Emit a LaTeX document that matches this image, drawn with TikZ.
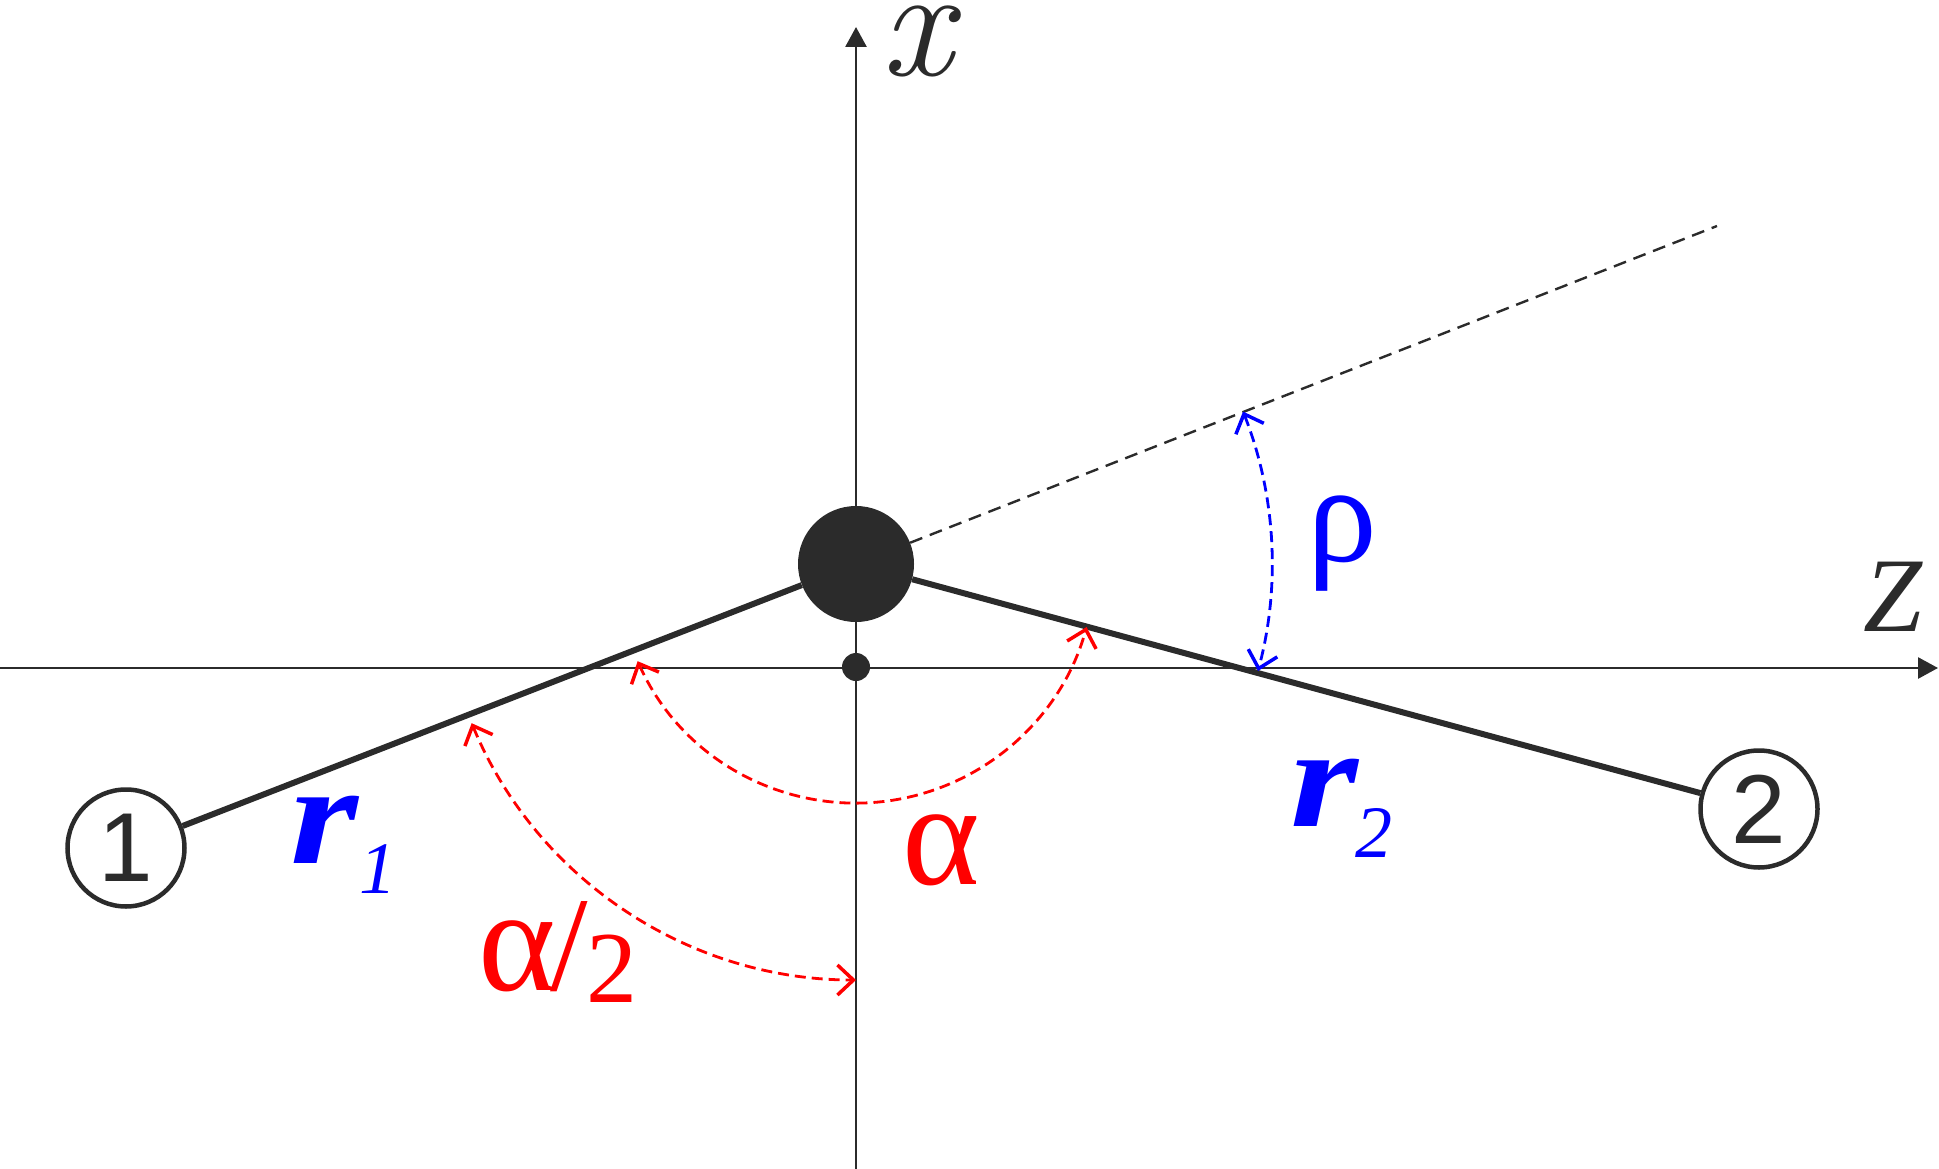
\documentclass[tikz,border=0pt]{standalone}
\usepackage{fontspec}
\usepackage{graphicx}
\setmainfont{Liberation Serif}
\newfontfamily\sansf{Liberation Sans}
\newfontfamily\lmfont{Latin Modern Roman}
\usetikzlibrary{arrows.meta,calc}
\definecolor{ink}{HTML}{2B2B2B}
\definecolor{myblue}{RGB}{0,0,255}
\definecolor{myred}{RGB}{255,0,0}
\newcommand\fsz[1]{\fontsize{#1}{#1}\selectfont}
\begin{document}
\begin{tikzpicture}[x=1pt,y=-1pt,
  axis/.style={draw=ink,line width=2.8pt,-{Triangle[length=20pt,width=21pt]}},
  bond/.style={draw=ink,line width=6pt},
  atom/.style={circle,draw=ink,line width=4.5pt,fill=white,minimum size=117pt,inner sep=0pt,font=\sansf\fsz{98},text=ink},
  dashline/.style={draw=ink,line width=2.4pt,dash pattern=on 13pt off 8pt},
  angarc/.style={line width=2.8pt,dash pattern=on 11pt off 6pt,
    arrows={Straight Barb[length=16pt,width=30pt,line width=3.5pt]-Straight Barb[length=16pt,width=30pt,line width=3.5pt]}},
  lab/.style={inner sep=0pt}
]
\useasboundingbox (0,0) rectangle (1939,1169);
% axes
\coordinate (zl) at (0,668);
\coordinate (zr) at (1938,668);
\coordinate (xb) at (856,1169);
\coordinate (xt) at (856,27);
\draw[axis] (zl) -- (zr);
\draw[axis] (xb) -- (xt);
% atoms
\node[circle,fill=ink,minimum size=116pt,inner sep=0pt] (O) at (856,564) {};
\node[circle,fill=ink,minimum size=28pt,inner sep=0pt] (o) at (856,667) {};
\node[atom] (n1) at (126,848) {1};
\node[atom] (n2) at (1759,809) {2};
% bonds
\draw[bond] (n1) -- (O);
\draw[bond] (n2) -- (O);
\coordinate (E) at (1717,226);
\draw[dashline] (O) -- (E);
% angle arcs
\draw[angarc,draw=myred] ($(O)+(156:239)$) arc[start angle=156,end angle=15.3,radius=239];
\draw[angarc,draw=myred] ($(O)+(157.5:416)$) arc[start angle=157.5,end angle=90,radius=416];
\draw[angarc,draw=myblue] ($(O)+(-21.5:416)$) arc[start angle=-21.5,end angle=14.9,radius=416];
% labels
\node[lab,text=ink] (lx) at (917,41) {\lmfont\fsz{158}\itshape x};
\node[lab,text=ink] (lz) at (1893,597) {\fsz{106}\itshape Z};
\node[lab,text=myblue] (lrho) at (1342,544) {\fsz{140}ρ};
\node[lab,text=myred] (lal) at (941,850) {\fsz{148}α};
\node[lab,text=myred,anchor=base west] (lal2) at (478,990) {\fsz{148}α\kern-5pt{\fsz{135}/}\kern-2pt\raisebox{-12pt}{\fsz{102}2}};
\node[lab,text=myblue,anchor=base west] (lr1) at (290,863) {\fsz{143}\bfseries\itshape\scalebox{1.22}[1]{r}\kern1pt\raisebox{-30pt}{\fsz{74}\mdseries 1}};
\node[lab,text=myblue,anchor=base west] (lr2) at (1290,826) {\fsz{143}\bfseries\itshape\scalebox{1.22}[1]{r}\kern-3pt\raisebox{-31pt}{\fsz{74}\mdseries 2}};
\end{tikzpicture}
\end{document}
